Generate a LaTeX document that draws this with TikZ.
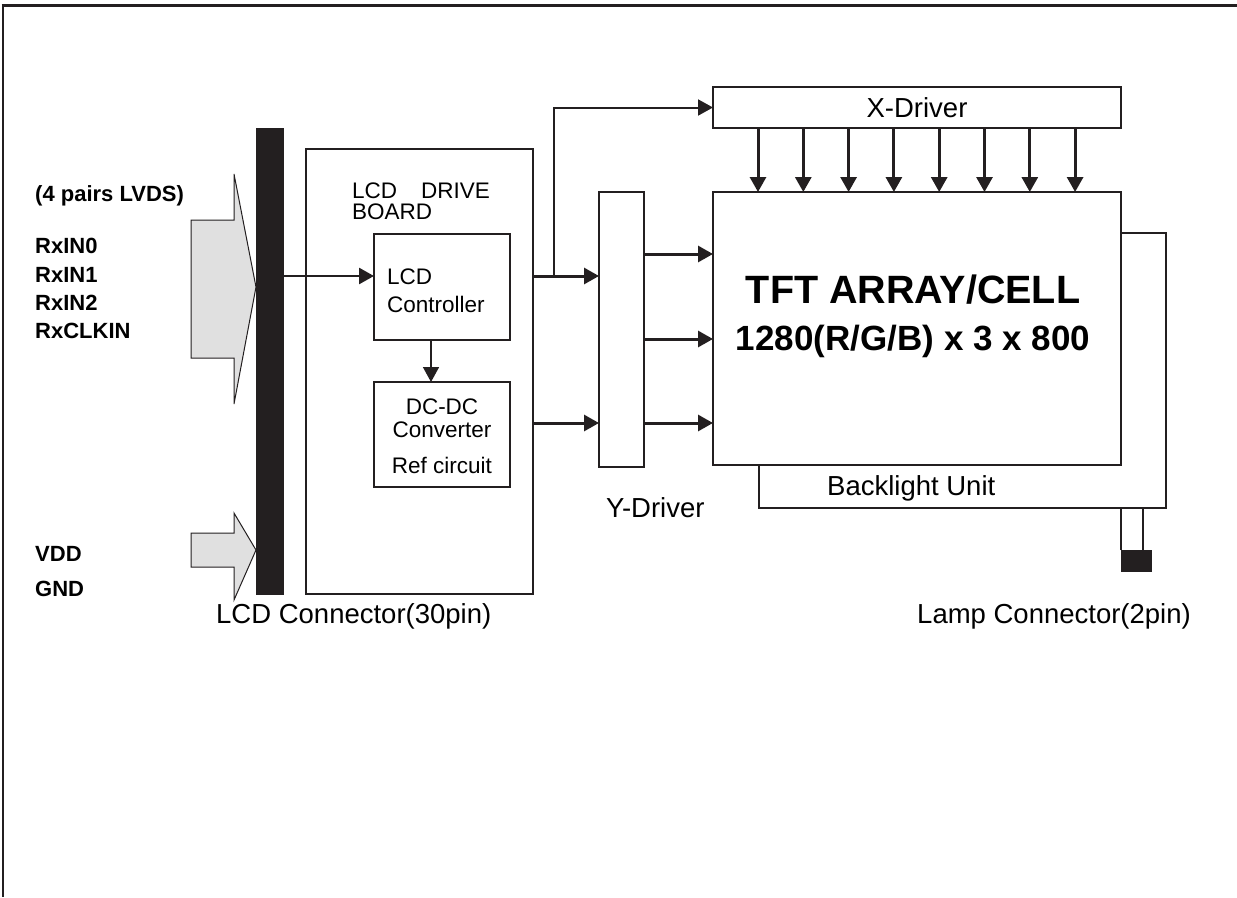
\documentclass[tikz,border=0pt]{standalone}
\usepackage{fontspec}
\setmainfont{Liberation Sans}
\usetikzlibrary{arrows.meta,calc}

\definecolor{inkgray}{RGB}{35,31,32}
\definecolor{arrowgray}{RGB}{224,224,224}

\begin{document}
\begin{tikzpicture}[x=1pt,y=-1pt,>={Triangle[length=15pt,width=16pt]},
		box/.style={draw=inkgray,line width=2pt,inner sep=0pt,outer sep=0pt,anchor=north west},
		blk/.style={fill=inkgray,inner sep=0pt,outer sep=0pt,anchor=north west},
		sig/.style={->,line width=3pt,draw=inkgray},
		thinsig/.style={->,line width=1.6pt,draw=inkgray},
		pin/.style={font=\bfseries\fontsize{22}{26}\selectfont,anchor=base west,inner sep=0pt},
		txt/.style={font=\fontsize{22.5}{26}\selectfont,anchor=base west,inner sep=0pt},
		bigtxt/.style={font=\fontsize{27.5}{31}\selectfont,anchor=base west,inner sep=0pt}]
			\useasboundingbox (0,0) rectangle (1237,897);

			% frame
			\draw [inkgray,line width=3pt] (1.5,5) -- (1237,5);
			\draw [inkgray,line width=1.5pt] (3,5) -- (3,897);

			% inputs
			\node [pin] (lvds) at (35,201) {(4 pairs LVDS)};
			\node [pin] (rx0) at (35,253) {RxIN0};
			\node [pin] (rx1) at (35,282) {RxIN1};
			\node [pin] (rx2) at (35,310) {RxIN2};
			\node [pin] (rxclk) at (35,338) {RxCLKIN};
			\node [pin] (vdd) at (35,561) {VDD};
			\node [pin] (gnd) at (35,596) {GND};

			\node [blk,minimum width=28,minimum height=467] (bar) at (256,128) {};
			\draw [inkgray,line width=1pt,fill=arrowgray] (191,220) -- (234,220) -- (234,174) -- (bar.west |- 0,287) -- (234,404) -- (234,358) -- (191,358) -- cycle;
			\draw [inkgray,line width=1pt,fill=arrowgray] (191,533) -- (234,533) -- (234,513) -- (bar.west |- 0,550) -- (234,600) -- (234,567) -- (191,567) -- cycle;
			\node [bigtxt] (lcdcon) at (216,623) {LCD Connector(30pin)};

			% drive board
			\node [box,minimum width=227,minimum height=445] (board) at (306,149) {};
			\node [txt] (boardlbl) at (352,198) {LCD\hspace{24pt}DRIVE};
			\node [txt] (boardlbl2) at (352,219) {BOARD};
			\node [box,minimum width=136,minimum height=106] (ctrl) at (374,234) {};
			\node [txt] (ctrllbl) at (387,284) {LCD};
			\node [txt] (ctrllbl2) at (387,312) {Controller};
			\node [box,minimum width=136,minimum height=105] (dcdc) at (374,382) {};
			\node [txt,anchor=base] (dclbl) at (442,414) {DC-DC};
			\node [txt,anchor=base] (convlbl) at (442,437) {Converter};
			\node [txt,anchor=base] (reflbl) at (442,473) {Ref circuit};

			\draw [sig,line width=2.7pt] (bar.east |- 0,276) -- (ctrl.west |- 0,276);
			\draw [thinsig] (ctrl.south -| 431,0) -- (dcdc.north -| 431,0);

			% drivers and panel
			\node [box,minimum width=408,minimum height=41] (xdrv) at (713,87) {};
			\node [bigtxt,anchor=base] (xlbl) at (xdrv.center |- 0,117) {X-Driver};
			\node [box,minimum width=45,minimum height=275] (ydrv) at (599,192) {};
			\node [bigtxt] (ylbl) at (606,517) {Y-Driver};
			\node [box,minimum width=408,minimum height=273] (tft) at (713,192) {};
			\node [font=\bfseries\fontsize{39.5}{43}\selectfont,anchor=base,inner sep=0pt] (tftlbl) at (913,303) {TFT ARRAY/CELL};
			\node [font=\bfseries\fontsize{35}{39}\selectfont,anchor=base,inner sep=0pt] (reslbl) at (913,350) {1280(R/G/B) x 3 x 800};

			\coordinate (split) at (554,276);
			\draw [sig] (board.east |- split) -- (ydrv.west |- split);
			\draw [sig] (board.east |- 0,423) -- (ydrv.west |- 0,423);
			\draw [thinsig,line width=2pt] (split) |- (xdrv.west);
			\foreach \y in {254,339,423}
				\draw [sig] (ydrv.east |- 0,\y) -- (tft.west |- 0,\y);
			\foreach \x in {758,803.3,848.6,893.9,939.2,984.5,1029.8,1075.1}
				\draw [sig] (xdrv.south -| \x,0) -- (tft.north -| \x,0);

			% backlight and lamp
			\coordinate (blcorner) at (1166,508);
			\draw [inkgray,line width=2pt] (tft.east |- 0,233) -| (blcorner) -| (tft.south -| 759,0);
			\node [bigtxt] (bllbl) at (827,495) {Backlight Unit};
			\node [blk,minimum width=31,minimum height=22] (lamp) at (1121,550) {};
			\draw [inkgray,line width=2pt] (lamp.north west) -- (lamp.north west |- blcorner);
			\draw [inkgray,line width=2pt] (lamp.north -| 1143,0) -- (blcorner -| 1143,0);
			\node [bigtxt] (lamplbl) at (917,623) {Lamp Connector(2pin)};
		\end{tikzpicture}
\end{document}
